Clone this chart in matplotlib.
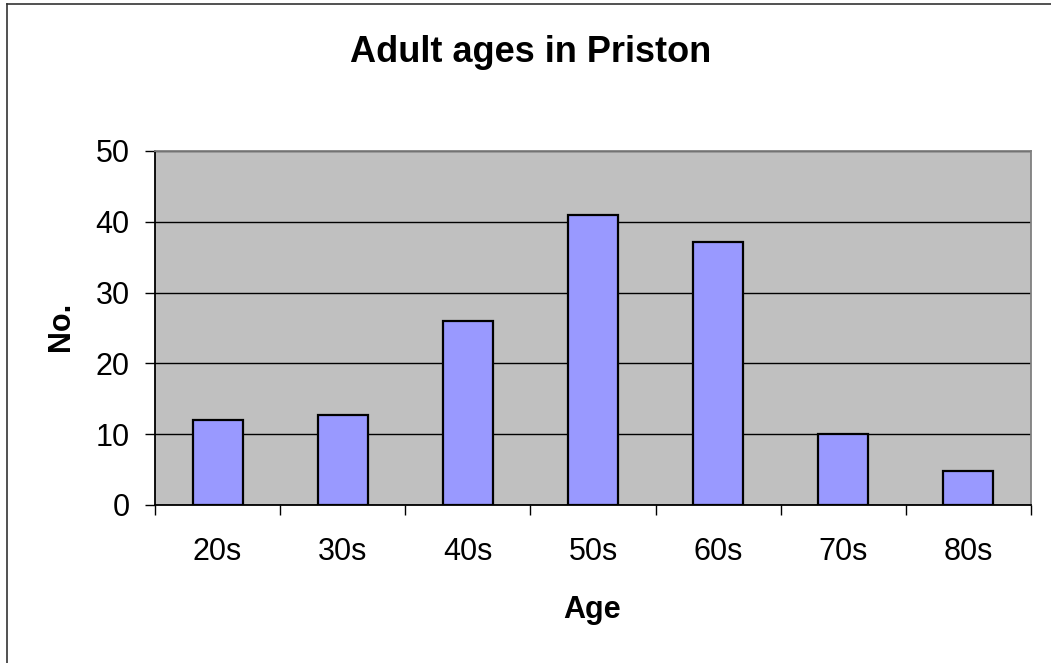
import matplotlib
matplotlib.use('Agg')
import matplotlib.pyplot as plt
from matplotlib.lines import Line2D

plt.rcParams['font.family'] = ['Liberation Sans', 'DejaVu Sans']

age_groups = ['20s', '30s', '40s', '50s', '60s', '70s', '80s']
counts     = [12, 12.7, 26, 41, 37.2, 10, 4.8]
y_ticks    = [0, 10, 20, 30, 40, 50]

W, H = 1051, 663
fig = plt.figure(figsize=(W/100, H/100), dpi=100)

# plot area (pixel box -> figure fractions)
ax = fig.add_axes([155/W, 1-505/H, 876/W, 354/H])
ax.set_facecolor('#C0C0C0')

xpos = list(range(len(age_groups)))
ax.bar(xpos, counts, 0.4, color='#9999FF', edgecolor='black', linewidth=1.6, zorder=3)

ax.set_xlim(-0.5, len(age_groups)-0.5)
ax.set_ylim(0, 50)

# grid
ax.set_yticks(y_ticks)
ax.yaxis.grid(True, color='black', linewidth=1.0)
ax.set_axisbelow(True)

# x: labels at centres, tick marks at boundaries
ax.set_xticks(xpos)
ax.set_xticklabels(age_groups)
ax.set_xticks([i - 0.5 for i in range(len(age_groups)+1)], minor=True)
ax.tick_params(axis='x', which='major', length=0, pad=23, labelsize=22)
ax.tick_params(axis='x', which='minor', length=7.2, width=1, direction='out')
ax.tick_params(axis='y', length=7.2, width=1, direction='out', pad=11, labelsize=22)

ax.spines['left'].set_color('black')
ax.spines['bottom'].set_color('black')
ax.spines['top'].set_color('#808080')
ax.spines['right'].set_color('#808080')
for s in ax.spines.values():
    s.set_linewidth(1.3)

# titles as figure text for exact placement
fig.text(530.5/W, 1-62/H, 'Adult ages in Priston', ha='center', va='baseline',
         fontsize=26, fontweight='bold')
fig.text(592/W, 1-618/H, 'Age', ha='center', va='baseline',
         fontsize=22, fontweight='bold')
fig.text(61/W, 1-326/H, 'No.', ha='center', va='center', rotation=90,
         fontsize=22, fontweight='bold')

# outer chart border (only top and left visible in the crop)
fig.add_artist(Line2D([7/W, 7/W], [0, 1-4/H], transform=fig.transFigure, color='#333333', lw=1.2))
fig.add_artist(Line2D([7/W, 1], [1-4/H, 1-4/H], transform=fig.transFigure, color='#333333', lw=1.2))

fig.savefig('out.png', dpi=100)
